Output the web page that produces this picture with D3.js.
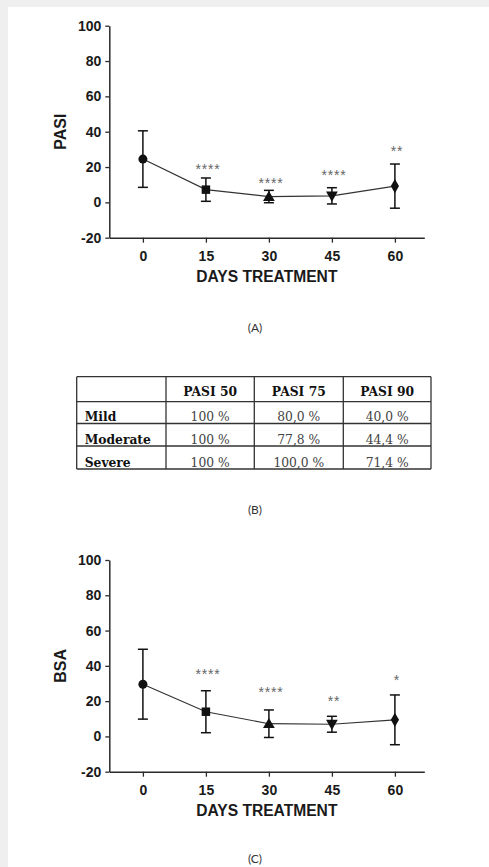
<!DOCTYPE html>
<html>
<head>
<meta charset="utf-8">
<script src="https://cdn.jsdelivr.net/npm/d3@7"></script>
<style>
  html, body { margin: 0; padding: 0; background: #efefef; }
  svg { display: block; }
</style>
</head>
<body>
<svg id="fig" width="489" height="867"></svg>
<script>
// ---------- DATA ----------
const days = [0, 15, 30, 45, 60];
const yTicks = [-20, 0, 20, 40, 60, 80, 100];
const markerShapes = ["circle", "square", "triangle", "triangleDown", "diamond"];

const pasiMean = [24.5, 7.2, 3.3, 3.7, 9.2];
const pasiSD   = [16.0, 6.6, 3.5, 4.6, 12.5];
const pasiStars = ["", "****", "****", "****", "**"];
const pasiStarY = [null, 20.7, 12.6, 17.3, 30.6];

const bsaMean = [29.6, 14.0, 7.2, 6.9, 9.4];
const bsaSD   = [19.8, 11.9, 7.8, 4.5, 14.1];
const bsaStars = ["", "****", "****", "**", "*"];
const bsaStarY = [null, 37.0, 26.9, 21.9, 33.8];

const tableHeader = ["", "PASI 50", "PASI 75", "PASI 90"];
const tableRows = ["Mild", "Moderate", "Severe"];
const pasi50 = ["100 %", "100 %", "100 %"];
const pasi75 = ["80,0 %", "77,8 %", "100,0 %"];
const pasi90 = ["40,0 %", "44,4 %", "71,4 %"];

const captions = ["(A)", "(B)", "(C)"];

// ---------- LAYOUT ----------
const svg = d3.select("#fig");
svg.append("rect").attr("x", 8).attr("y", 7).attr("width", 481).attr("height", 860).attr("fill", "#ffffff");

const sans = "'Liberation Sans', Arial, sans-serif";
const serif = "'DejaVu Serif', 'Liberation Serif', serif";
const capFont = "Lato, 'Open Sans', sans-serif";

const x = d3.scaleLinear().domain([-8, 67]).range([109.3, 424.3]);

const symbolMap = {
  circle: d3.symbolCircle,
  square: d3.symbolSquare,
  triangle: d3.symbolTriangle,
  triangleDown: d3.symbolTriangle,
  diamond: d3.symbolDiamond
};
const symbolSize = { circle: 64, square: 72, triangle: 60, triangleDown: 60, diamond: 58 };

function drawChart(top, bottom, title, means, sds, stars, starY) {
  const y = d3.scaleLinear().domain([-20, 100]).range([bottom, top]);
  const g = svg.append("g");

  // y axis
  const ya = g.append("g").attr("transform", `translate(${x.range()[0]},0)`)
    .call(d3.axisLeft(y).tickValues(yTicks).tickFormat(d => String(d))
      .tickSize(4).tickSizeOuter(0).tickPadding(4));
  // x axis
  const xa = g.append("g").attr("transform", `translate(0,${y(-20)})`)
    .call(d3.axisBottom(x).tickValues(days).tickFormat(d => String(d))
      .tickSize(5).tickSizeOuter(0).tickPadding(7));
  [ya, xa].forEach(a => {
    a.select(".domain").attr("stroke", "#2a2a2a").attr("stroke-width", 1.5);
    a.selectAll(".tick line").attr("stroke", "#2a2a2a").attr("stroke-width", 1.3);
    a.selectAll(".tick text").attr("font-family", sans).attr("font-weight", "bold")
      .attr("font-size", 14).attr("fill", "#1a1a1a");
  });
  xa.selectAll(".tick text").attr("dy", "0.78em");

  // axis titles
  g.append("text")
    .attr("transform", `translate(66,${(y(100) + y(-20)) / 2}) rotate(-90)`)
    .attr("text-anchor", "middle")
    .attr("font-family", sans).attr("font-weight", "bold").attr("font-size", 16)
    .attr("fill", "#1a1a1a").text(title);
  g.append("text")
    .attr("x", (x.range()[0] + x.range()[1]) / 2).attr("y", y(-20) + 44.6)
    .attr("text-anchor", "middle")
    .attr("font-family", sans).attr("font-weight", "bold").attr("font-size", 15.6)
    .attr("fill", "#1a1a1a").text("DAYS TREATMENT");

  const pts = days.map((d, i) => ({ d, m: means[i], s: sds[i], shape: markerShapes[i], star: stars[i], sy: starY[i] }));

  // connecting line
  g.append("path").datum(pts)
    .attr("fill", "none").attr("stroke", "#333").attr("stroke-width", 1.2)
    .attr("d", d3.line().x(p => x(p.d)).y(p => y(p.m)));

  // error bars
  const eb = g.selectAll(".eb").data(pts).enter().append("g")
    .attr("stroke", "#111").attr("stroke-width", 1.5).attr("fill", "none");
  eb.append("line").attr("x1", p => x(p.d)).attr("x2", p => x(p.d))
    .attr("y1", p => y(p.m - p.s)).attr("y2", p => y(p.m + p.s));
  eb.append("line").attr("x1", p => x(p.d) - 5).attr("x2", p => x(p.d) + 5)
    .attr("y1", p => y(p.m + p.s)).attr("y2", p => y(p.m + p.s));
  eb.append("line").attr("x1", p => x(p.d) - 5).attr("x2", p => x(p.d) + 5)
    .attr("y1", p => y(p.m - p.s)).attr("y2", p => y(p.m - p.s));

  // markers
  g.selectAll(".mk").data(pts).enter().append("path")
    .attr("d", p => d3.symbol().type(symbolMap[p.shape]).size(symbolSize[p.shape])())
    .attr("transform", p => `translate(${x(p.d)},${y(p.m) + (p.shape === "triangle" ? 1 : p.shape === "triangleDown" ? -1 : 0)})` +
      (p.shape === "triangleDown" ? " rotate(180)" : ""))
    .attr("fill", "#111");

  // significance stars
  g.selectAll(".st").data(pts.filter(p => p.star)).enter().append("text")
    .attr("x", p => x(p.d) + 2).attr("y", p => y(p.sy) + 8)
    .attr("text-anchor", "middle")
    .attr("font-family", sans).attr("font-size", 14).attr("letter-spacing", 0.8)
    .attr("fill", "#666").text(p => p.star);
}

drawChart(25.7, 237.7, "PASI", pasiMean, pasiSD, pasiStars, pasiStarY);
drawChart(560, 771.7, "BSA", bsaMean, bsaSD, bsaStars, bsaStarY);

// ---------- TABLE ----------
const colEdges = [76.7, 166, 254.3, 343.3, 431];
const rowEdges = [376.7, 401.7, 423.5, 446, 469];
const tg = svg.append("g");
const columns = [tableRows, pasi50, pasi75, pasi90];

// grid lines
tg.selectAll(".hl").data(rowEdges).enter().append("line")
  .attr("x1", colEdges[0]).attr("x2", colEdges[colEdges.length - 1])
  .attr("y1", d => d).attr("y2", d => d)
  .attr("stroke", "#333").attr("stroke-width", 1.3);
tg.selectAll(".vl").data(colEdges).enter().append("line")
  .attr("y1", rowEdges[0]).attr("y2", rowEdges[rowEdges.length - 1])
  .attr("x1", d => d).attr("x2", d => d)
  .attr("stroke", "#333").attr("stroke-width", 1.3);

// header
tg.selectAll(".th").data(tableHeader).enter().append("text")
  .attr("x", (d, i) => (colEdges[i] + colEdges[i + 1]) / 2)
  .attr("y", rowEdges[1] - 5.5)
  .attr("text-anchor", "middle")
  .attr("font-family", serif).attr("font-weight", "bold").attr("font-size", 12.3)
  .attr("fill", "#111").text(d => d);

// body
columns.forEach((col, ci) => {
  tg.selectAll(".c" + ci).data(col).enter().append("text")
    .attr("x", ci === 0 ? colEdges[0] + 8 : (colEdges[ci] + colEdges[ci + 1]) / 2)
    .attr("y", (d, ri) => rowEdges[ri + 2] - 2.5)
    .attr("text-anchor", ci === 0 ? "start" : "middle")
    .attr("font-family", serif).attr("font-weight", ci === 0 ? "bold" : "normal")
    .attr("font-size", 12.3)
    .attr("fill", ci === 0 ? "#111" : "#444").text(d => d);
});

// ---------- CAPTIONS ----------
const capY = [332, 514, 863];
svg.selectAll(".cap").data(captions).enter().append("text")
  .attr("x", 255).attr("y", (d, i) => capY[i])
  .attr("text-anchor", "middle")
  .attr("font-family", capFont).attr("font-size", 12).attr("fill", "#333")
  .text(d => d);
</script>
</body>
</html>
